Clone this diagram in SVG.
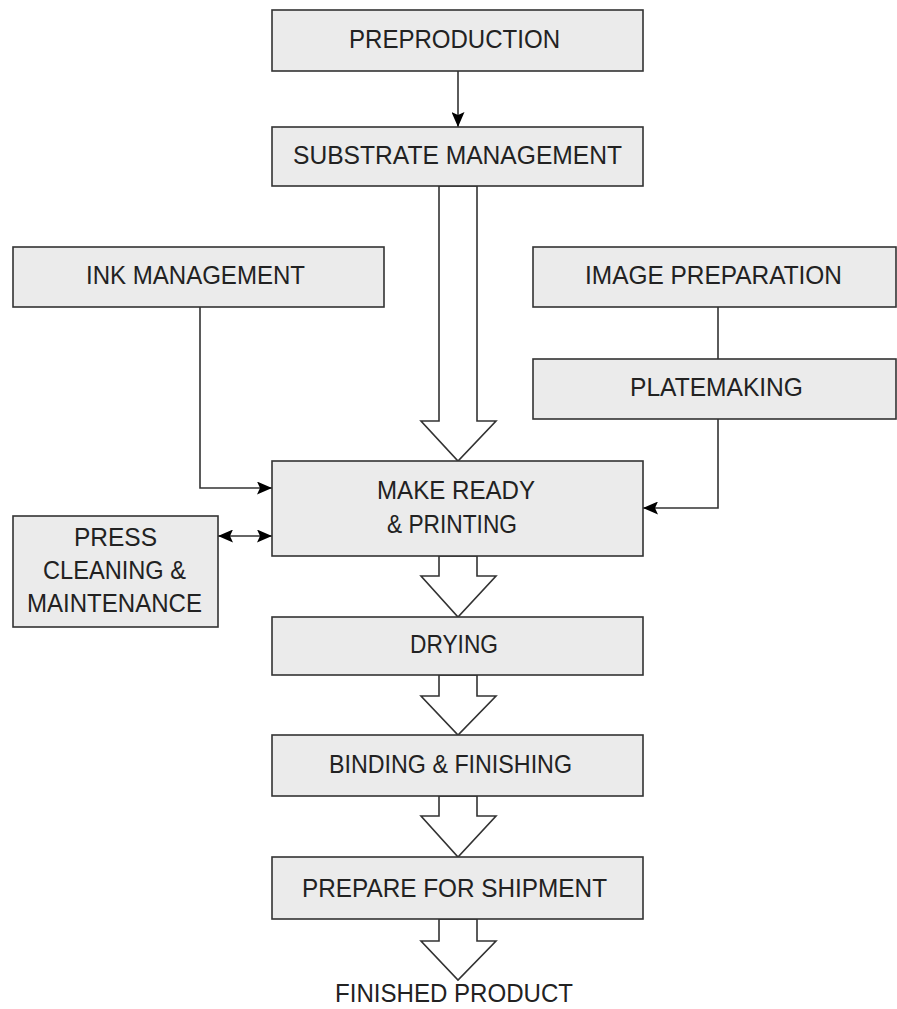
<svg xmlns="http://www.w3.org/2000/svg" width="897" height="1009" viewBox="0 0 897 1009">
<style>
.box{fill:#ebebeb;stroke:#333;stroke-width:1.6}
.lbl{font-family:"Liberation Sans",Arial,sans-serif;font-size:26px;fill:#222}
.ln{fill:none;stroke:#333;stroke-width:1.6}
.ha{fill:#fff;stroke:#333;stroke-width:1.6;stroke-linejoin:miter}
</style>
<defs>
<marker id="ah" markerUnits="userSpaceOnUse" markerWidth="15" markerHeight="13" refX="15" refY="6.5" orient="auto-start-reverse" viewBox="0 0 15 13">
<path d="M0,0 L15,6.5 L0,13 L3,6.5 z" fill="#000"/>
</marker>
</defs>
<rect width="897" height="1009" fill="#fff"/>
<g id="connectors">
<line class="ln" x1="458" y1="71" x2="458" y2="127" marker-end="url(#ah)"/>
<polyline class="ln" points="200,307 200,488 272,488" marker-end="url(#ah)"/>
<line class="ln" x1="718" y1="307" x2="718" y2="359"/>
<polyline class="ln" points="718,419 718,508 643,508" marker-end="url(#ah)"/>
<line class="ln" x1="218" y1="536" x2="272" y2="536" marker-start="url(#ah)" marker-end="url(#ah)"/>
<polygon class="ha" points="439,186 439,421 421,421 458,461 496,421 477,421 477,186"/>
<polygon class="ha" points="439,556 439,576 421,576 458,617 496,576 477,576 477,556"/>
<polygon class="ha" points="439,675 439,696 421,696 458,735 496,696 477,696 477,675"/>
<polygon class="ha" points="439,796 439,816 421,816 458,857 496,816 477,816 477,796"/>
<polygon class="ha" points="439,919 439,941 421,941 458,980 496,941 477,941 477,919"/>
</g>
<g id="preproduction"><rect class="box" x="272" y="10" width="371" height="61"/><text class="lbl" x="349" y="48" textLength="211" lengthAdjust="spacingAndGlyphs">PREPRODUCTION</text></g>
<g id="substrate"><rect class="box" x="272" y="127" width="371" height="59"/><text class="lbl" x="293" y="164" textLength="329" lengthAdjust="spacingAndGlyphs">SUBSTRATE MANAGEMENT</text></g>
<g id="ink"><rect class="box" x="13" y="247" width="371" height="60"/><text class="lbl" x="86" y="284" textLength="219" lengthAdjust="spacingAndGlyphs">INK MANAGEMENT</text></g>
<g id="image-prep"><rect class="box" x="533" y="247" width="363" height="60"/><text class="lbl" x="585" y="284" textLength="257" lengthAdjust="spacingAndGlyphs">IMAGE PREPARATION</text></g>
<g id="platemaking"><rect class="box" x="533" y="359" width="363" height="60"/><text class="lbl" x="630" y="396" textLength="173" lengthAdjust="spacingAndGlyphs">PLATEMAKING</text></g>
<g id="make-ready"><rect class="box" x="272" y="461" width="371" height="95"/><text class="lbl" x="377" y="499" textLength="158" lengthAdjust="spacingAndGlyphs">MAKE READY</text><text class="lbl" x="387" y="533" textLength="130" lengthAdjust="spacingAndGlyphs">&amp; PRINTING</text></g>
<g id="press"><rect class="box" x="13" y="516" width="205" height="111"/><text class="lbl" x="74" y="546" textLength="83" lengthAdjust="spacingAndGlyphs">PRESS</text><text class="lbl" x="43" y="579" textLength="143" lengthAdjust="spacingAndGlyphs">CLEANING &amp;</text><text class="lbl" x="27" y="612" textLength="175" lengthAdjust="spacingAndGlyphs">MAINTENANCE</text></g>
<g id="drying"><rect class="box" x="272" y="617" width="371" height="58"/><text class="lbl" x="410" y="653" textLength="88" lengthAdjust="spacingAndGlyphs">DRYING</text></g>
<g id="binding"><rect class="box" x="272" y="735" width="371" height="61"/><text class="lbl" x="329" y="773" textLength="243" lengthAdjust="spacingAndGlyphs">BINDING &amp; FINISHING</text></g>
<g id="shipment"><rect class="box" x="272" y="857" width="371" height="62"/><text class="lbl" x="302" y="897" textLength="305" lengthAdjust="spacingAndGlyphs">PREPARE FOR SHIPMENT</text></g>
<g id="finished"><text class="lbl" x="335" y="1002" textLength="238" lengthAdjust="spacingAndGlyphs">FINISHED PRODUCT</text></g>
</svg>
